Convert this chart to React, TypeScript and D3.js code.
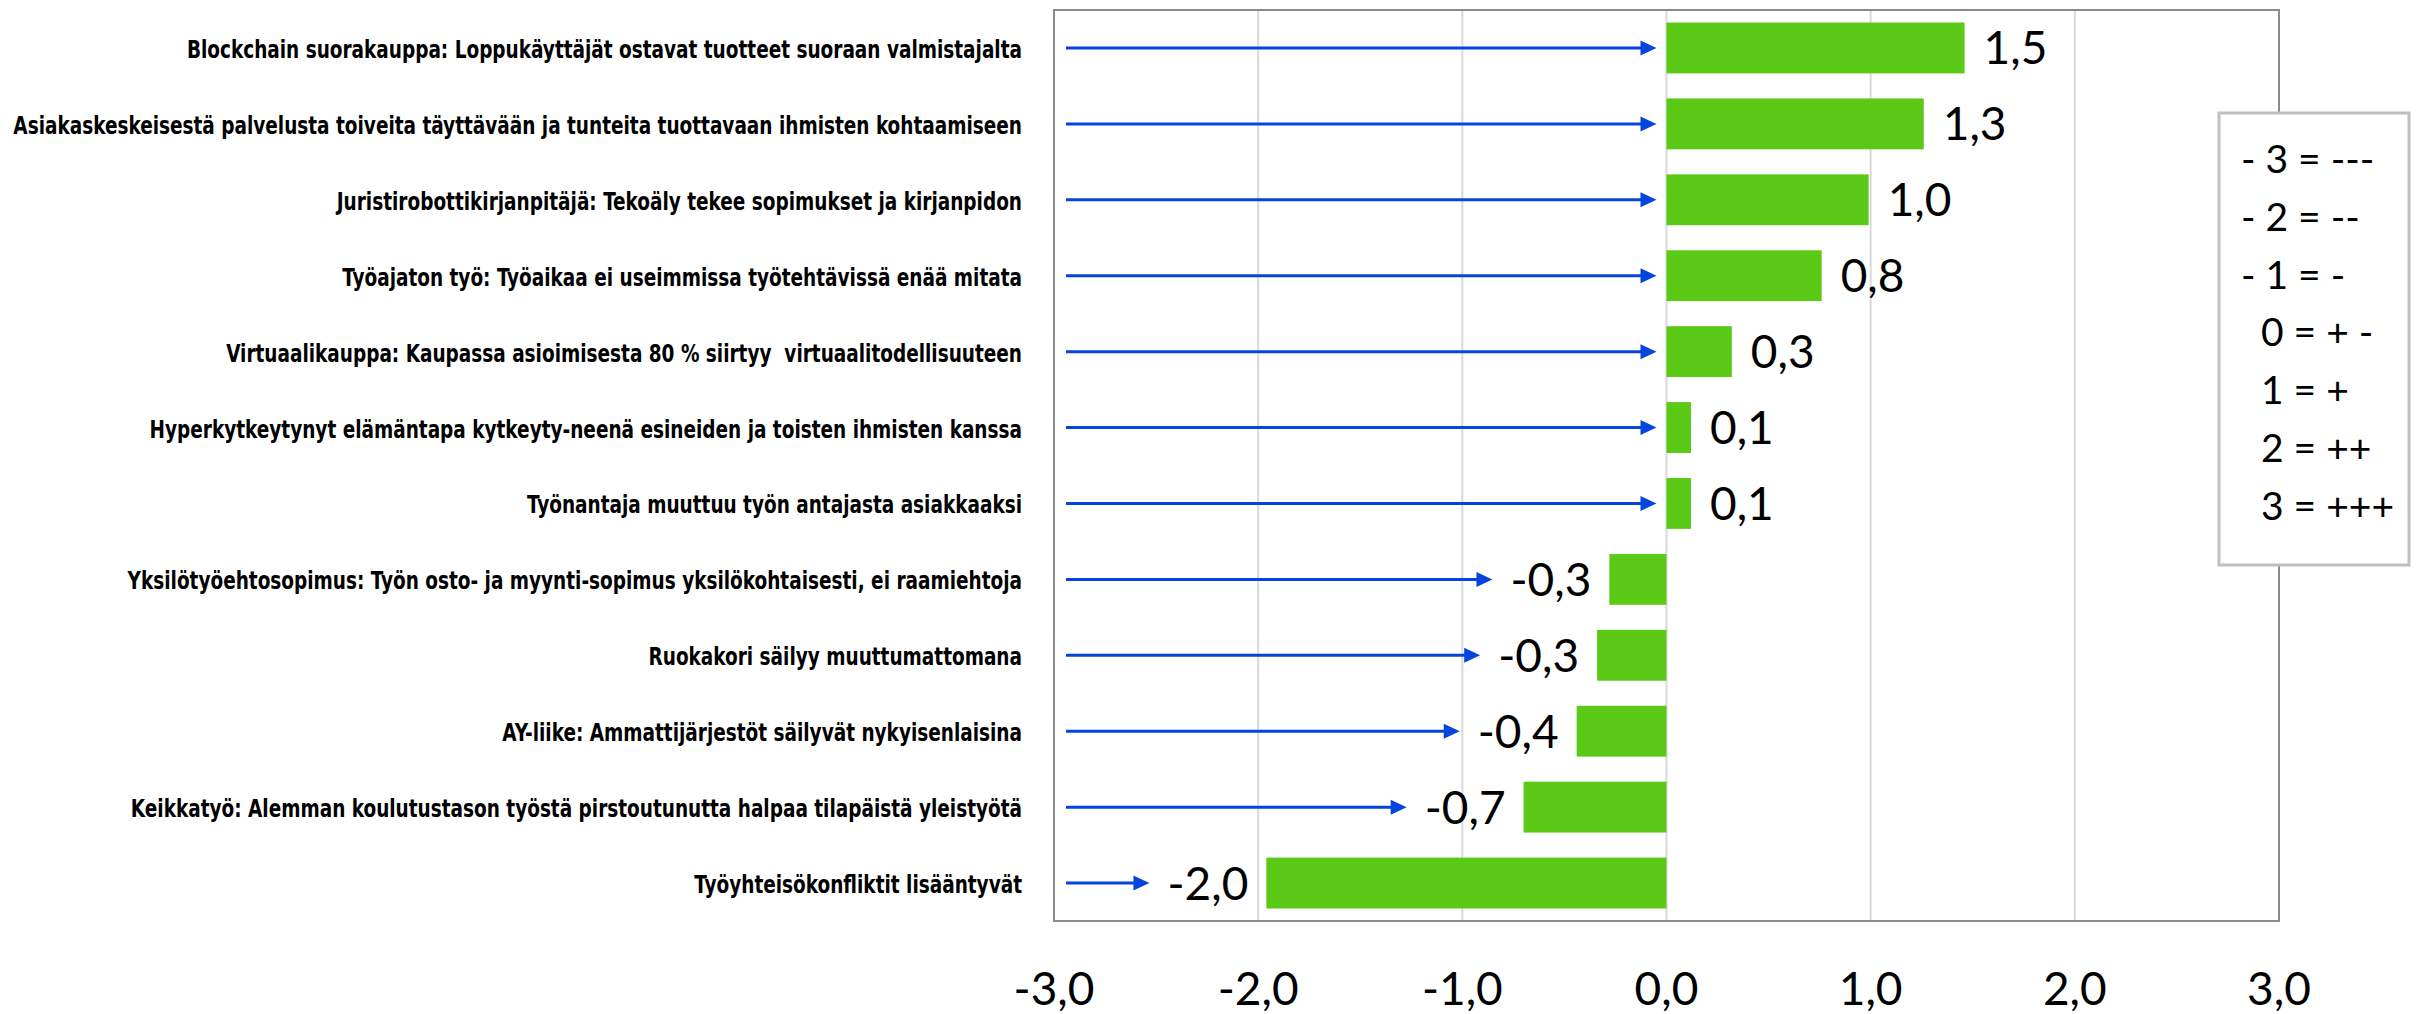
import React, { useEffect, useRef } from "react";
import * as d3 from "d3";

const categories = [
  "Blockchain suorakauppa: Loppukäyttäjät ostavat tuotteet suoraan valmistajalta",
  "Asiakaskeskeisestä palvelusta toiveita täyttävään ja tunteita tuottavaan ihmisten kohtaamiseen",
  "Juristirobottikirjanpitäjä: Tekoäly tekee sopimukset ja kirjanpidon",
  "Työajaton työ: Työaikaa ei useimmissa työtehtävissä enää mitata",
  "Virtuaalikauppa: Kaupassa asioimisesta 80 % siirtyy  virtuaalitodellisuuteen",
  "Hyperkytkeytynyt elämäntapa kytkeyty-neenä esineiden ja toisten ihmisten kanssa",
  "Työnantaja muuttuu työn antajasta asiakkaaksi",
  "Yksilötyöehtosopimus: Työn osto- ja myynti-sopimus yksilökohtaisesti, ei raamiehtoja",
  "Ruokakori säilyy muuttumattomana",
  "AY-liike: Ammattijärjestöt säilyvät nykyisenlaisina",
  "Keikkatyö: Alemman koulutustason työstä pirstoutunutta halpaa tilapäistä yleistyötä",
  "Työyhteisökonfliktit lisääntyvät",
];

const values = [1.46, 1.26, 0.99, 0.76, 0.32, 0.12, 0.12, -0.28, -0.34, -0.44, -0.7, -1.96];

const xTicks = [-3, -2, -1, 0, 1, 2, 3];

const legendLines = [
  "- 3 = ---",
  "- 2 = --",
  "- 1 = -",
  "  0 = + -",
  "  1 = +",
  "  2 = ++",
  "  3 = +++",
];

const fiLocale = d3.formatLocale({
  decimal: ",",
  thousands: " ",
  grouping: [3],
  currency: ["", "€"],
  minus: "-",
});
const fmt = fiLocale.format(".1f");

export default function App() {
  const ref = useRef<SVGSVGElement>(null);

  useEffect(() => {
    const svg = d3.select(ref.current);
    svg.selectAll("*").remove();

    const left = 1054, right = 2279, top = 10, bottom = 921;
    const x = d3.scaleLinear().domain([-3, 3]).range([left, right]);
    const y = d3
      .scaleBand<string>()
      .domain(categories)
      .range([top, bottom])
      .paddingInner(0.33)
      .paddingOuter(0.165);

    const green = "#5bca16";
    const blue = "#0645dd";
    const numFont = "Lato, 'Open Sans', sans-serif";

    svg.append("rect").attr("width", 2418).attr("height", 1014).attr("fill", "#ffffff");

    // gridlines
    svg
      .append("g")
      .selectAll("line")
      .data(xTicks.filter((t) => t > -3 && t < 3))
      .join("line")
      .attr("x1", (d) => x(d))
      .attr("x2", (d) => x(d))
      .attr("y1", top)
      .attr("y2", bottom)
      .attr("stroke", "#d9d9d9")
      .attr("stroke-width", 2);

    // frame
    svg
      .append("rect")
      .attr("x", left)
      .attr("y", top)
      .attr("width", right - left)
      .attr("height", bottom - top)
      .attr("fill", "none")
      .attr("stroke", "#8c8c8c")
      .attr("stroke-width", 2);

    const rows = categories.map((c, i) => ({ c, v: values[i] }));

    // bars
    svg
      .append("g")
      .selectAll("rect")
      .data(rows)
      .join("rect")
      .attr("x", (d) => x(Math.min(0, d.v)))
      .attr("width", (d) => Math.abs(x(d.v) - x(0)))
      .attr("y", (d) => y(d.c)!)
      .attr("height", y.bandwidth())
      .attr("fill", green);

    // value labels
    const vl = svg
      .append("g")
      .selectAll("text")
      .data(rows)
      .join("text")
      .attr("x", (d) => (d.v >= 0 ? x(d.v) + 19 : x(d.v) - 18))
      .attr("y", (d) => y(d.c)! + y.bandwidth() / 2 + 16.5)
      .attr("text-anchor", (d) => (d.v >= 0 ? "start" : "end"))
      .attr("font-family", numFont)
      .attr("font-size", 46)
      .attr("fill", "#000")
      .text((d) => fmt(d.v));

    // arrows
    const labelWidths: number[] = [];
    vl.each(function () {
      labelWidths.push((this as SVGTextElement).getComputedTextLength());
    });
    const ag = svg.append("g");
    rows.forEach((d, i) => {
      const cy = y(d.c)! + y.bandwidth() / 2;
      const tip = d.v >= 0 ? x(0) - 10 : x(d.v) - 18 - labelWidths[i] - 18;
      const start = x(-3) + 12;
      ag.append("line")
        .attr("x1", start)
        .attr("x2", tip - 12)
        .attr("y1", cy)
        .attr("y2", cy)
        .attr("stroke", blue)
        .attr("stroke-width", 3);
      ag.append("path")
        .attr("d", `M${tip},${cy} L${tip - 16},${cy - 7.5} L${tip - 16},${cy + 7.5} Z`)
        .attr("fill", blue);
    });

    // category labels (condensed horizontally to fit the space left of the plot)
    const labelRight = 1022;
    const labelLeftLimit = 13;
    const cg = svg.append("g");
    const ct = cg
      .selectAll("text")
      .data(rows)
      .join("text")
      .attr("x", labelRight)
      .attr("y", (d) => y(d.c)! + y.bandwidth() / 2 + 10)
      .attr("text-anchor", "end")
      .attr("font-family", "'Liberation Sans Narrow', 'DejaVu Sans Condensed', 'DejaVu Sans', sans-serif")
      .attr("font-weight", "bold")
      .attr("font-size", 24)
      .attr("fill", "#000")
      .style("white-space", "pre")
      .text((d) => d.c);
    let maxW = 0;
    ct.each(function () {
      maxW = Math.max(maxW, (this as SVGTextElement).getComputedTextLength());
    });
    const ratio = (labelRight - labelLeftLimit) / maxW;
    cg.attr("transform", `translate(${labelRight},0) scale(${ratio},1) translate(${-labelRight},0)`);

    // x axis tick labels
    svg
      .append("g")
      .selectAll("text")
      .data(xTicks)
      .join("text")
      .attr("x", (d) => x(d))
      .attr("y", 1005)
      .attr("text-anchor", "middle")
      .attr("font-family", numFont)
      .attr("font-size", 46)
      .attr("fill", "#000")
      .text((d) => fmt(d));

    // legend box
    svg
      .append("rect")
      .attr("x", 2219)
      .attr("y", 113)
      .attr("width", 190)
      .attr("height", 452)
      .attr("fill", "#fff")
      .attr("stroke", "#bfbfbf")
      .attr("stroke-width", 3);

    svg
      .append("g")
      .selectAll("text")
      .data(legendLines)
      .join("text")
      .attr("x", 2241)
      .attr("y", (_d, i) => 173 + i * 57.8)
      .attr("font-family", numFont)
      .attr("font-size", 39)
      .attr("fill", "#000")
      .style("white-space", "pre")
      .text((d) => d);
  }, []);

  return (
    <svg
      ref={ref}
      width={2418}
      height={1014}
      style={{ position: "absolute", left: 0, top: 0, display: "block" }}
    />
  );
}
